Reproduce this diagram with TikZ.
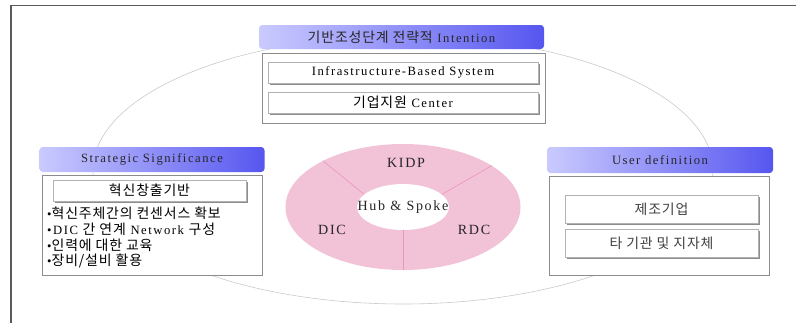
\documentclass[tikz,border=0pt]{standalone}
\usepackage{fontspec}
\setmainfont{Liberation Serif}[LetterSpace=12]
\newfontfamily\krfont{Noto Sans CJK KR}[Scale=1.1, LetterSpace=6]
\usetikzlibrary{shadows,shapes.geometric}
\definecolor{headL}{RGB}{202,202,255}
\definecolor{headR}{RGB}{86,86,240}
\definecolor{donut}{RGB}{242,194,214}
\definecolor{donutline}{RGB}{232,150,190}
\definecolor{boxline}{RGB}{140,140,140}
\definecolor{ringline}{RGB}{200,200,200}
\definecolor{framegray}{RGB}{90,90,90}
\def\pxl{0.3mm}
\def\kr#1{{\krfont #1}}
\tikzset{
	every node/.style={font=\fontsize{10.8}{12}\selectfont, inner sep=0pt},
	headbox/.style={rounded corners=1mm, left color=headL, right color=headR, text=black!85},
	bodybox/.style={draw=boxline, fill=white, line width=0.6pt},
	itembox/.style={draw=black!30, fill=white, line width=0.5pt, drop shadow={shadow xshift=0.6mm, shadow yshift=-0.6mm, fill=black!45, opacity=1}},
	ringtext/.style={font=\fontsize{12}{13}\selectfont, text=black!85}
}

\begin{document}
\begin{tikzpicture}[x=0.3mm, y=-0.3mm]
			%%%%% START %%%%%
			
			\useasboundingbox (0, 0) rectangle (796, 323);
			\draw[framegray, line width=1.2pt] (11, 323) -- (11, 5.5) -- (796, 5.5);
			
			\draw[ringline, line width=0.5pt] (403, 170) ellipse [x radius=310*\pxl, y radius=134*\pxl];
			
			\node[headbox, minimum width=285*\pxl, minimum height=24*\pxl] (intent) at (401.5, 37) {\kr{기반조성단계 전략적} Intention};
			\node[bodybox, minimum width=283*\pxl, minimum height=70*\pxl] (intentbody) at (403.5, 88) {};
			\node[itembox, minimum width=270*\pxl, minimum height=21*\pxl] (infra) at (403, 72.5) {Infrastructure-Based System};
			\node[itembox, minimum width=270*\pxl, minimum height=21*\pxl] (support) at (403, 102.5) {\kr{기업지원} Center};
			
			\node[headbox, minimum width=225*\pxl, minimum height=25*\pxl] (strategy) at (152, 159.5) {Strategic Significance};
			\node[bodybox, minimum width=220*\pxl, minimum height=100*\pxl] (strategybody) at (152, 225) {};
			\node[itembox, minimum width=193*\pxl, minimum height=21*\pxl] (innov) at (149.5, 190.5) {\kr{혁신창출기반}};
			\node[anchor=west] (item1) at (47, 213) {•\kr{혁신주체간의 컨센서스 확보}};
			\node[anchor=west] (item2) at (47, 229) {•DIC \kr{간 연계} Network \kr{구성}};
			\node[anchor=west] (item3) at (47, 245) {•\kr{인력에 대한 교육}};
			\node[anchor=west] (item4) at (47, 261) {•\kr{장비/설비 활용}};
			
			\node[headbox, minimum width=226*\pxl, minimum height=26*\pxl] (user) at (660, 160) {User definition};
			\node[bodybox, minimum width=220*\pxl, minimum height=99*\pxl] (userbody) at (659, 225.5) {};
			\node[itembox, minimum width=193*\pxl, minimum height=28*\pxl, text=black!75] (maker) at (661.5, 209) {\kr{제조기업}};
			\node[itembox, minimum width=193*\pxl, minimum height=28*\pxl, text=black!75] (others) at (661.5, 243) {\kr{타 기관 및 지자체}};
			
			\node[ellipse, fill=donut, minimum width=235*\pxl, minimum height=126*\pxl] (ring) at (403, 207) {};
			\node[ellipse, fill=white, minimum width=92*\pxl, minimum height=46*\pxl] (hub) at (403, 207) {};
			\draw[donutline, line width=0.5pt] (hub.162) -- (ring.150);
			\draw[donutline, line width=0.5pt] (hub.18) -- (ring.25);
			\draw[donutline, line width=0.5pt] (hub.270) -- (ring.270);
			\node[ringtext] (hubtext) at (hub) {Hub \& Spoke};
			\node[ringtext] (kidp) at (406, 163) {KIDP};
			\node[ringtext] (dic) at (332, 230) {DIC};
			\node[ringtext] (rdc) at (474, 230) {RDC};
			
			%%%%% END %%%%%
\end{tikzpicture}
\end{document}
